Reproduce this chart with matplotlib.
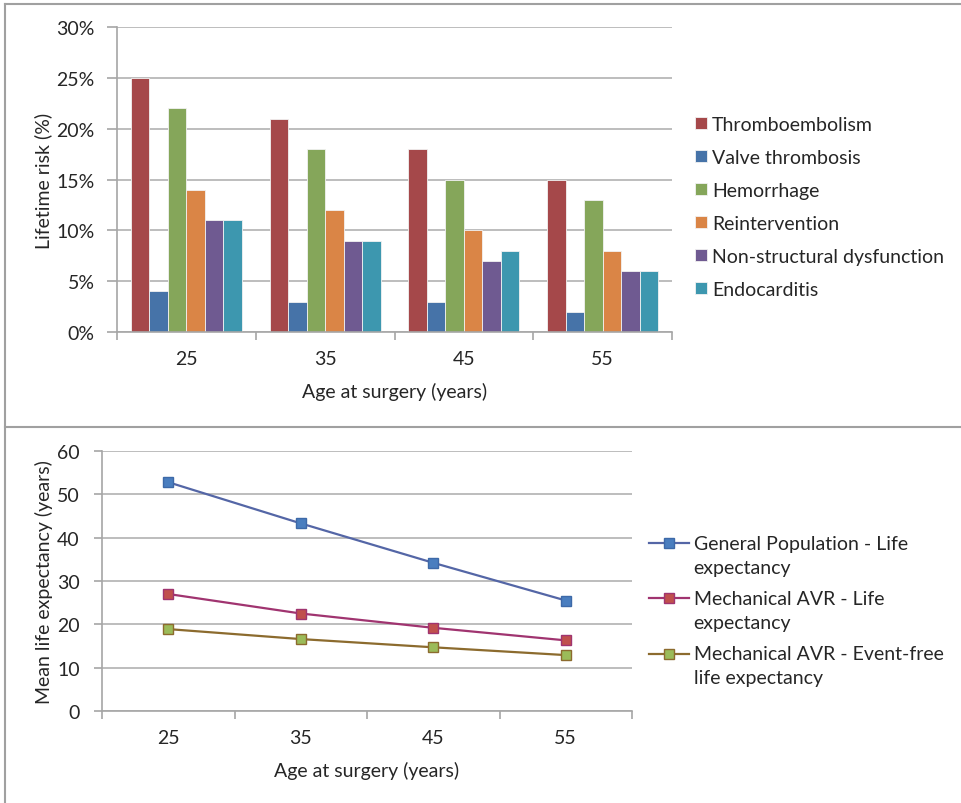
import matplotlib
matplotlib.use("Agg")
import matplotlib.pyplot as plt
from matplotlib.lines import Line2D
from matplotlib.legend_handler import HandlerLine2D
from matplotlib.ticker import FixedLocator, NullFormatter, FixedFormatter, PercentFormatter

plt.rcParams['font.family'] = ['Lato', 'DejaVu Sans']
TXT = '#262626'
GRID = '#B2B2B2'
AXC = '#A6A6A6'

# ---- data ----
ages = ['25', '35', '45', '55']

risk_series = ['Thromboembolism', 'Valve thrombosis', 'Hemorrhage',
               'Reintervention', 'Non-structural dysfunction', 'Endocarditis']
thromboembolism = [25, 21, 18, 15]
valve_thrombosis = [4, 3, 3, 2]
hemorrhage = [22, 18, 15, 13]
reintervention = [14, 12, 10, 8]
nonstructural = [11, 9, 7, 6]
endocarditis = [11, 9, 8, 6]
risk_values = [thromboembolism, valve_thrombosis, hemorrhage,
               reintervention, nonstructural, endocarditis]
risk_colors = ['#A5484A', '#4673A8', '#85A65A', '#DA8546', '#6F5A91', '#3D97AF']

le_labels = ['General Population - Life\nexpectancy',
             'Mechanical AVR - Life\nexpectancy',
             'Mechanical AVR - Event-free\nlife expectancy']
general_population = [52.8, 43.3, 34.2, 25.5]
mech_avr_life = [27.0, 22.5, 19.2, 16.3]
mech_avr_eventfree = [18.9, 16.6, 14.7, 12.9]
le_values = [general_population, mech_avr_life, mech_avr_eventfree]
le_line_colors = ['#5466A6', '#A03470', '#8C6B2E']
le_face_colors = ['#4A7EBF', '#C0504D', '#9BBB59']
le_edge_colors = ['#3D69A8', '#A03470', '#8C6B2E']

W, H = 961, 804
fig = plt.figure(figsize=(W / 100, H / 100), dpi=100)


def px_axes(left, top, right, bottom):
    return fig.add_axes([left / W, 1 - bottom / H, (right - left) / W, (bottom - top) / H])


def style_axes(ax, ytick_len, ypad):
    for s in ['top', 'right']:
        ax.spines[s].set_visible(False)
    for s in ['left', 'bottom']:
        ax.spines[s].set_color(AXC)
        ax.spines[s].set_linewidth(1.2)
    ax.set_axisbelow(True)
    ax.yaxis.grid(True, color=GRID, linewidth=1.2)
    ax.tick_params(axis='y', which='major', length=ytick_len, width=1.2, color=AXC,
                   labelsize=14, labelcolor=TXT, pad=ypad)
    n = len(ages)
    ax.set_xlim(-0.5, n - 0.5)
    ax.xaxis.set_major_locator(FixedLocator([i - 0.5 for i in range(n + 1)]))
    ax.xaxis.set_major_formatter(NullFormatter())
    ax.xaxis.set_minor_locator(FixedLocator(list(range(n))))
    ax.xaxis.set_minor_formatter(FixedFormatter(ages))
    ax.tick_params(axis='x', which='major', length=6, width=1.2, color=AXC)
    ax.tick_params(axis='x', which='minor', length=0, labelsize=14, labelcolor=TXT, pad=13)


class FirstLineHandler(HandlerLine2D):
    """Line handle placed level with the first line of a two-line label."""

    def __init__(self, shift, **kw):
        super().__init__(**kw)
        self.shift = shift

    def create_artists(self, legend, orig_handle, xdescent, ydescent, width,
                       height, fontsize, trans):
        artists = super().create_artists(legend, orig_handle, xdescent, ydescent,
                                         width, height, fontsize, trans)
        for a in artists:
            a.set_ydata([y + self.shift for y in a.get_ydata()])
        return artists


# ---- top panel: lifetime risk bars ----
ax1 = px_axes(117, 28, 672, 333)
style_axes(ax1, 7, 9)
n_series = len(risk_series)
bw = 0.8 / n_series
for k, (name, vals, col) in enumerate(zip(risk_series, risk_values, risk_colors)):
    xs = [i - 0.4 + bw * (k + 0.5) for i in range(len(ages))]
    ax1.bar(xs, vals, width=bw, color=col, edgecolor='#F2F2F2', linewidth=0.6,
            label=name, zorder=2)
ax1.set_ylim(0, 30)
ax1.set_yticks(range(0, 31, 5))
ax1.yaxis.set_major_formatter(PercentFormatter(decimals=0))
ax1.set_ylabel('Lifetime risk (%)', fontsize=14, color=TXT)
ax1.yaxis.set_label_coords(-0.117, 0.5)
ax1.set_xlabel('Age at surgery (years)', fontsize=14, color=TXT)
ax1.xaxis.set_label_coords(0.5, -0.164)
leg1 = ax1.legend(loc='upper left', bbox_to_anchor=(695 / W, 1 - 117 / H),
                  bbox_transform=fig.transFigure, frameon=False, fontsize=14,
                  handlelength=0.62, handleheight=0.62, handletextpad=0.25,
                  labelspacing=0.82, borderpad=0, borderaxespad=0)
for t in leg1.get_texts():
    t.set_color(TXT)

# ---- bottom panel: life expectancy lines ----
ax2 = px_axes(102, 452, 632, 712)
style_axes(ax2, 6, 10)
lines = []
for lab, vals, lc, fc, ec in zip(le_labels, le_values, le_line_colors,
                                 le_face_colors, le_edge_colors):
    ln, = ax2.plot(range(len(ages)), vals, color=lc, linewidth=1.6, marker='s',
                   markersize=7.5, markerfacecolor=fc, markeredgecolor=ec,
                   markeredgewidth=1.0, label=lab, zorder=3)
    lines.append(ln)
ax2.set_ylim(0, 60)
ax2.set_yticks(range(0, 61, 10))
ax2.set_ylabel('Mean life expectancy (years)', fontsize=14, color=TXT)
ax2.yaxis.set_label_coords(-0.0925, 0.5)
ax2.set_xlabel('Age at surgery (years)', fontsize=14, color=TXT)
ax2.xaxis.set_label_coords(0.5, -0.192)
leg2 = ax2.legend(loc='upper left', bbox_to_anchor=(649 / W, 1 - 536 / H),
                  bbox_transform=fig.transFigure, frameon=False, fontsize=14,
                  handlelength=2.05, handletextpad=0.25, labelspacing=0.73,
                  borderpad=0, borderaxespad=0,
                  handler_map={ln: FirstLineHandler(9.0) for ln in lines})
for t in leg2.get_texts():
    t.set_color(TXT)
    t.set_linespacing(1.5)

# ---- panel frames ----
frame = dict(color='#A0A0A0', linewidth=1.5, transform=fig.transFigure)
fig.add_artist(Line2D([5 / W, 1], [1 - 5 / H, 1 - 5 / H], **frame))
fig.add_artist(Line2D([5 / W, 5 / W], [0, 1 - 5 / H], **frame))
fig.add_artist(Line2D([5 / W, 1], [1 - 428 / H, 1 - 428 / H], **frame))

fig.savefig('out.png', dpi=100)
